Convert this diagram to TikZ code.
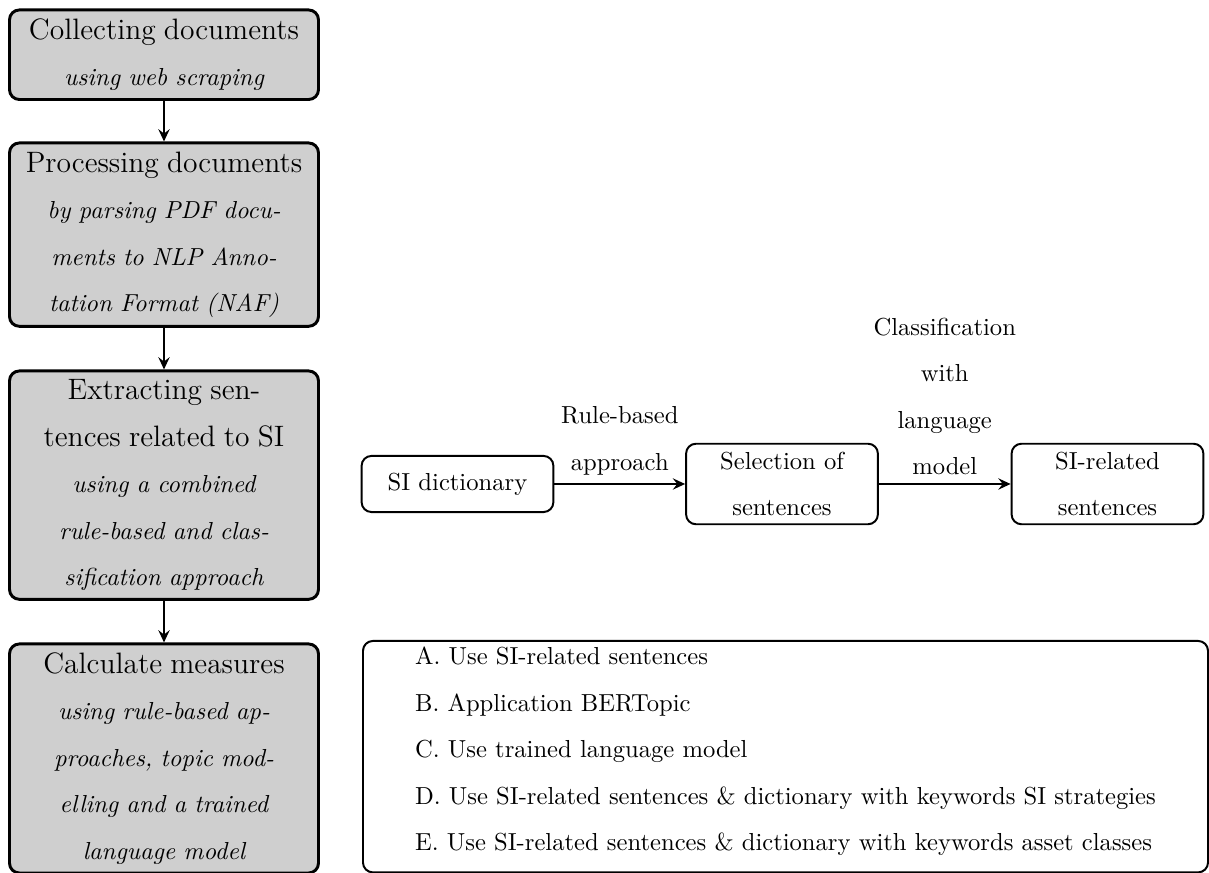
\documentclass[tikz,border=0pt]{standalone}
\usetikzlibrary{arrows.meta,positioning}
\newcommand\stagetitle[1]{{\fontsize{12}{18.9}\selectfont #1}}
\newcommand\stagesub[1]{{\itshape #1}}
\begin{document}
\begin{tikzpicture}[x=0.4065pt,y=-0.4065pt,
  base/.style={font=\fontsize{10}{18.9}\selectfont},
  stage/.style={base, draw, very thick, rounded corners=4pt, fill=black!19,
    text width=118.6pt, align=center, inner sep=3.5pt, anchor=north},
  proc/.style={base, draw, thick, rounded corners=4pt, text width=71.3pt,
    align=center, minimum height=22.8pt},
  flow/.style={thick, -{Stealth[length=5pt,width=4.6pt,inset=1.8pt]}},
  lbl/.style={base, align=center},
  listbox/.style={base, draw, thick, rounded corners=4pt, align=left,
    minimum width=343.5pt, inner ysep=2.6pt, text depth=6.1pt, anchor=north west}]
\useasboundingbox (0,0) rectangle (1209,873);

% left column
\node[stage] (b1) at (164,8.5) {\stagetitle{Collecting documents}\\
  \stagesub{using web scraping}};
\node[stage] (b2) at (164,141.5) {\stagetitle{Processing documents}\\
  \stagesub{by parsing PDF docu-}\\ \stagesub{ments to NLP Anno-}\\
  \stagesub{tation Format (NAF)}};
\node[stage] (b3) at (164,369.5) {\stagetitle{Extracting sen-}\\
  \stagetitle{tences related to SI}\\ \stagesub{using a combined}\\
  \stagesub{rule-based and clas-}\\ \stagesub{sification approach}};
\node[stage] (b4) at (164,642.5) {\stagetitle{Calculate measures}\\
  \stagesub{using rule-based ap-}\\ \stagesub{proaches, topic mod-}\\
  \stagesub{elling and a trained}\\ \stagesub{language model}};

\draw[flow] (b1) -- (b2);
\draw[flow] (b2) -- (b3);
\draw[flow] (b3) -- (b4);

% right process
\node[proc] (sid) at (457.5,484) {SI dictionary};
\node[proc] (sel) at (782,484) {Selection of\\sentences};
\node[proc] (sir) at (1107.5,484) {SI-related\\sentences};

\draw[flow] (sid) -- node[lbl, above] (l1) {Rule-based\\approach} (sel);
\draw[flow] (sel) -- node[lbl, above] (l2) {Classification\\with\\language\\model} (sir);

% measures list
\node[listbox] (meas) at (362,640) {A. Use SI-related sentences\\
  B. Application BERTopic\\
  C. Use trained language model\\
  D. Use SI-related sentences \& dictionary with keywords SI strategies\\
  E. Use SI-related sentences \& dictionary with keywords asset classes};
\end{tikzpicture}
\end{document}
